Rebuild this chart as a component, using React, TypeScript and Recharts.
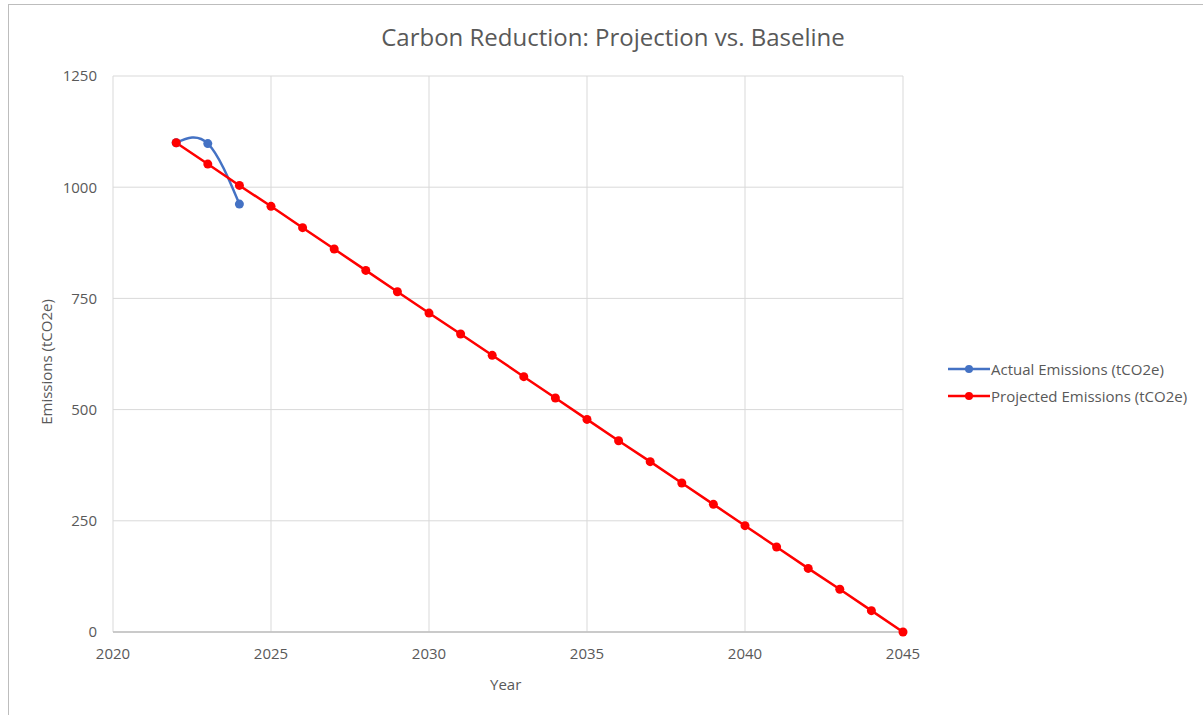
import React from 'react';
import { LineChart, Line, XAxis, YAxis, CartesianGrid } from 'recharts';

const actualYears = [2022, 2023, 2024];
const actualValues = [1100, 1098, 962];
const projectedYears = [2022, 2023, 2024, 2025, 2026, 2027, 2028, 2029, 2030, 2031, 2032, 2033, 2034, 2035, 2036, 2037, 2038, 2039, 2040, 2041, 2042, 2043, 2044, 2045];
const projectedValues = [1100, 1052, 1004, 957, 909, 861, 813, 765, 717, 670, 622, 574, 526, 478, 430, 383, 335, 287, 239, 191, 143, 96, 48, 0];
const xTicks = [2020, 2025, 2030, 2035, 2040, 2045];
const yTicks = [0, 250, 500, 750, 1000, 1250];

const actualData = actualYears.map((year, i) => ({ year, value: actualValues[i] }));
const projectedData = projectedYears.map((year, i) => ({ year, value: projectedValues[i] }));

const FONT = '"Open Sans", "Noto Sans", sans-serif';
const TEXT = '#595959';
const BLUE = '#4472c4';
const RED = '#ff0000';

const LegendItem = ({ color, label, top }: { color: string; label: string; top: number }) => (
  <div style={{ position: 'absolute', left: 948, top, display: 'flex', alignItems: 'center', height: 18 }}>
    <svg width={42} height={12} style={{ display: 'block' }}>
      <line x1={0} y1={6} x2={42} y2={6} stroke={color} strokeWidth={2.5} />
      <circle cx={21} cy={6} r={4} fill={color} />
    </svg>
    <span style={{ fontFamily: FONT, fontSize: 15, color: TEXT, marginLeft: 1, whiteSpace: 'nowrap' }}>{label}</span>
  </div>
);

export default function App() {
  return (
    <div style={{ position: 'absolute', left: 0, top: 0, width: 1203, height: 715, background: '#fff', overflow: 'hidden' }}>
      <div style={{ position: 'absolute', left: 8, top: 4, width: 1300, height: 800, borderTop: '1.5px solid #bdbdbd', borderLeft: '1.5px solid #bdbdbd' }} />
      <div style={{ position: 'absolute', left: 0, width: 1226, top: 20, textAlign: 'center', fontFamily: FONT, fontSize: 24, color: TEXT }}>
        Carbon Reduction: Projection vs. Baseline
      </div>
      <div style={{ position: 'absolute', left: 0, top: 0 }}>
        <LineChart width={1203} height={715} margin={{ top: 76, right: 300, bottom: 53, left: 0 }}>
          <CartesianGrid stroke="#d9d9d9" strokeWidth={1} />
          <XAxis
            dataKey="year"
            type="number"
            domain={[2020, 2045]}
            ticks={xTicks}
            allowDuplicatedCategory={false}
            height={30}
            stroke="#bfbfbf"
            strokeWidth={1.5}
            tickLine={false}
            tick={{ fill: TEXT, fontSize: 15, fontFamily: FONT }}
            tickMargin={10}
          />
          <YAxis
            dataKey="value"
            type="number"
            domain={[0, 1250]}
            ticks={yTicks}
            width={113}
            axisLine={false}
            tickLine={false}
            tick={{ fill: TEXT, fontSize: 15, fontFamily: FONT }}
            tickMargin={10}
          />
          <Line
            data={actualData}
            dataKey="value"
            type="natural"
            stroke={BLUE}
            strokeWidth={2.5}
            dot={{ r: 4.5, fill: BLUE, stroke: BLUE, strokeWidth: 0 }}
            isAnimationActive={false}
          />
          <Line
            data={projectedData}
            dataKey="value"
            type="linear"
            stroke={RED}
            strokeWidth={2.5}
            dot={{ r: 4.5, fill: RED, stroke: RED, strokeWidth: 0 }}
            isAnimationActive={false}
          />
        </LineChart>
      </div>
      <div style={{ position: 'absolute', left: 490, top: 674, fontFamily: FONT, fontSize: 15, color: TEXT }}>Year</div>
      <div
        style={{
          position: 'absolute',
          left: 46,
          top: 362,
          transform: 'translate(-50%, -50%) rotate(-90deg)',
          fontFamily: FONT,
          fontSize: 15,
          color: TEXT,
          whiteSpace: 'nowrap',
        }}
      >
        Emissions (tCO2e)
      </div>
      <LegendItem color={BLUE} label="Actual Emissions (tCO2e)" top={360} />
      <LegendItem color={RED} label="Projected Emissions (tCO2e)" top={387} />
    </div>
  );
}
